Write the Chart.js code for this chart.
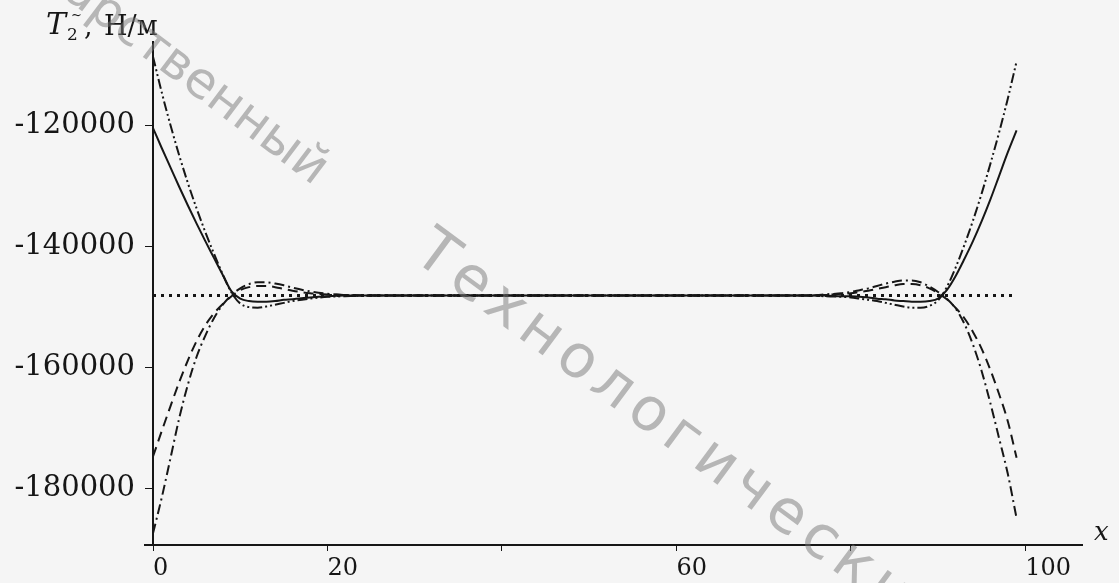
<!DOCTYPE html>
<html>
<head>
<meta charset="utf-8">
<script src="https://cdn.jsdelivr.net/npm/chart.js@4.4.1/dist/chart.umd.min.js"></script>
<style>
  html, body { margin: 0; padding: 0; background: #f5f5f5; }
  #wrap { width: 1119px; height: 583px; position: relative; }
</style>
</head>
<body>
<div id="wrap"><canvas id="chart"></canvas></div>
<script>
// x positions (categories) shared by the four curves
const xs = [0, 1, 2, 3, 4, 5, 6, 7, 8, 9, 10, 11, 12, 13, 14, 15, 16, 18, 20, 22, 25, 30, 40, 50, 60, 70, 75, 77, 79,
  80, 81, 82, 83, 84, 85, 86, 87, 88, 89, 90, 91, 92, 93, 94, 95, 96, 97, 98, 99];

// solid curve (from above, small dip under the level)
const solidY = [-120500, -123800, -127000, -130200, -133300, -136300, -139200, -142000, -144800, -147500,
  -148700, -149100, -149200, -149200, -149100, -148900, -148800, -148500, -148300, -148200, -148200, -148200,
  -148200, -148200, -148200, -148200, -148200, -148200, -148300,
  -148300, -148400, -148500, -148700, -148800, -149000, -149100, -149200, -149200, -149100, -148700,
  -147300, -145000, -142200, -139200, -135900, -132300, -128400, -124500, -120900];

// dash-dot-dot curve (from above, deeper dip)
const dashDotTopY = [-108700, -114600, -120000, -125000, -129600, -133800, -137700, -141300, -144700, -147700,
  -149500, -150100, -150200, -150000, -149700, -149400, -149100, -148700, -148400, -148300, -148200, -148200,
  -148200, -148200, -148200, -148200, -148200, -148300, -148400,
  -148500, -148700, -148900, -149100, -149400, -149700, -150000, -150200, -150200, -149900, -149000,
  -146800, -143600, -139900, -135800, -131300, -126400, -121200, -115600, -109500];

// dashed curve (from below, small hump over the level)
const dashedY = [-174800, -170600, -166500, -162500, -158900, -155700, -153100, -151100, -149600, -148300,
  -147300, -146800, -146600, -146600, -146800, -147100, -147400, -147800, -148000, -148100, -148200, -148200,
  -148200, -148200, -148200, -148200, -148200, -148100, -147900,
  -147800, -147600, -147400, -147100, -146800, -146500, -146300, -146300, -146500, -147000, -147800,
  -148800, -150200, -151900, -154200, -157000, -160500, -164500, -169000, -175000];

// dash-dot curve (from below, bigger hump)
const dashDotBottomY = [-187500, -181600, -175100, -168500, -162900, -158300, -154800, -151900, -149700, -148100,
  -147000, -146300, -146000, -146000, -146200, -146500, -146900, -147500, -147900, -148100, -148200, -148200,
  -148200, -148200, -148200, -148200, -148200, -148000, -147800,
  -147600, -147300, -147000, -146600, -146200, -145900, -145700, -145700, -146000, -146700, -147600,
  -148700, -150300, -152800, -156300, -160700, -166000, -171800, -177700, -185000];

// dotted horizontal level
const levelX = [0, 98.5];
const levelY = [-148200, -148200];

// ticks
const xTicks = [0, 20, 40, 60, 80, 100];
const xTickLabels = ['0', '20', '', '60', '', '100'];
const yTicks = [-180000, -160000, -140000, -120000];

const INK = '#161616';
const pts = (xv, yv) => xv.map((x, i) => ({ x: x, y: yv[i] }));

const line = (data, dash, width) => ({
  data: data,
  borderColor: INK,
  borderWidth: width || 2,
  borderDash: dash,
  pointRadius: 0,
  fill: false,
  cubicInterpolationMode: 'monotone'
});

const paperAndLabels = {
  id: 'paperAndLabels',
  beforeDraw(chart) {
    const ctx = chart.ctx;
    ctx.save();
    ctx.fillStyle = '#f5f5f5';
    ctx.fillRect(0, 0, chart.width, chart.height);
    ctx.restore();
  },
  afterDraw(chart) {
    const ctx = chart.ctx;
    ctx.save();
    ctx.fillStyle = INK;
    ctx.textBaseline = 'alphabetic';
    // axis title
    ctx.font = 'italic 30px "DejaVu Serif"';
    ctx.fillText('T', 46, 34);
    ctx.font = '17px "DejaVu Serif"';
    ctx.fillText('2', 67, 40);
    ctx.font = '13px "DejaVu Serif"';
    ctx.fillText('~', 71, 19);
    ctx.font = '27px "DejaVu Serif"';
    ctx.fillText(',', 84, 35);
    ctx.fillText('Н/м', 104, 35);
    // x label
    ctx.font = 'italic 26px "DejaVu Serif"';
    ctx.fillText('x', 1094, 540);
    // x-axis stub left of the y-axis
    const a = chart.chartArea;
    ctx.strokeStyle = INK;
    ctx.lineWidth = 2;
    ctx.beginPath();
    ctx.moveTo(a.left - 9, a.bottom);
    ctx.lineTo(a.left, a.bottom);
    ctx.stroke();
    // scan watermark
    ctx.fillStyle = 'rgba(120,120,120,0.5)';
    ctx.save();
    ctx.font = '50px "DejaVu Sans"';
    ctx.translate(314, 186);
    ctx.rotate(37 * Math.PI / 180);
    ctx.textAlign = 'right';
    ctx.fillText('Государственный', 0, 0);
    ctx.restore();
    ctx.font = '60px "DejaVu Sans"';
    ctx.letterSpacing = '7px';
    ctx.translate(411, 258);
    ctx.rotate(36.5 * Math.PI / 180);
    ctx.textAlign = 'left';
    ctx.fillText('Технологический университет', 0, 0);
    ctx.restore();
  }
};

new Chart(document.getElementById('chart'), {
  type: 'line',
  data: {
    datasets: [
      line(pts(levelX, levelY), [3, 5], 3),
      line(pts(xs, dashedY), [10, 6]),
      line(pts(xs, dashDotBottomY), [10, 4, 2, 4]),
      line(pts(xs, dashDotTopY), [10, 3, 2, 3, 2, 3]),
      line(pts(xs, solidY), [])
    ]
  },
  options: {
    responsive: true,
    maintainAspectRatio: false,
    animation: false,
    devicePixelRatio: 1,
    layout: { padding: { left: 0, top: 42, right: 37, bottom: 0 } },
    plugins: { legend: { display: false }, tooltip: { enabled: false } },
    scales: {
      x: {
        type: 'linear',
        min: 0,
        max: 106.5,
        afterBuildTicks: s => { s.ticks = xTicks.map(v => ({ value: v })); },
        afterFit: s => { s.height = 38; },
        ticks: {
          callback: (v, i) => xTickLabels[i],
          font: { family: 'DejaVu Serif', size: 24 },
          color: INK, padding: 3, maxRotation: 0, autoSkip: false, align: 'start'
        },
        grid: { drawOnChartArea: false, tickLength: 6, color: INK, lineWidth: 1 },
        border: { color: INK, width: 2 }
      },
      y: {
        min: -189420,
        max: -106280,
        afterBuildTicks: s => { s.ticks = yTicks.map(v => ({ value: v })); },
        afterFit: s => { s.width = 153; },
        ticks: {
          callback: v => String(v),
          font: { family: 'DejaVu Serif', size: 29 },
          color: INK, padding: 10
        },
        grid: { drawOnChartArea: false, tickLength: 8, color: INK, lineWidth: 1 },
        border: { color: INK, width: 2 }
      }
    }
  },
  plugins: [paperAndLabels]
});
</script>
</body>
</html>
